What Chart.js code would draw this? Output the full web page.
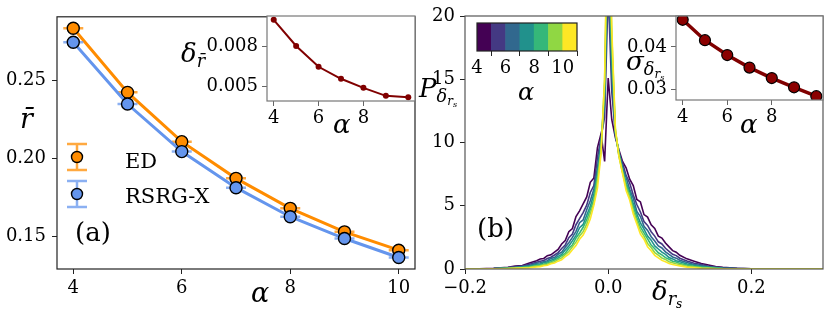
<!DOCTYPE html>
<html>
<head>
<meta charset="utf-8">
<script src="https://cdn.jsdelivr.net/npm/chart.js@4.4.0/dist/chart.umd.min.js"></script>
<style>
  body { margin: 0; background: #fff; }
  #wrap { position: relative; width: 830px; height: 317px; overflow: hidden; font-family: "DejaVu Serif", serif; }
  canvas { position: absolute; left: 0; top: 0; }
  .lbl { position: absolute; line-height: 1; white-space: nowrap; color: #000; }
  .m { font-style: italic; }
  sub { font-size: 68%; vertical-align: -0.28em; line-height: 0; }
</style>
</head>
<body>
<div id="wrap">
  <canvas id="cA" width="830" height="317"></canvas>
  <canvas id="cAin" width="830" height="317"></canvas>
  <canvas id="cB" width="830" height="317"></canvas>
  <canvas id="cBin" width="830" height="317"></canvas>
  <canvas id="cBar" width="830" height="317"></canvas>

  <div class="lbl m" style="font-size:27px; left:20px; top:105px;">r&#772;</div>
  <div class="lbl m" style="font-size:27px; left:251px; top:279px;">&alpha;</div>
  <div class="lbl m" style="font-size:26px; left:181px; top:40px;">&delta;<sub>r&#772;</sub></div>
  <div class="lbl m" style="font-size:26px; left:333px; top:111px;">&alpha;</div>
  <div class="lbl" style="font-size:26px; left:75px; top:219px;">(a)</div>
  <div class="lbl" style="font-size:21px; left:125px; top:151px;">ED</div>
  <div class="lbl" style="font-size:21px; left:125px; top:186px;">RSRG-X</div>

  <div class="lbl m" style="font-size:26px; left:419px; top:75px;">P<sub>&delta;<sub>r<sub>s</sub></sub></sub></div>
  <div class="lbl m" style="font-size:26px; left:652px; top:278px;">&delta;<sub>r<sub>s</sub></sub></div>
  <div class="lbl" style="font-size:26px; left:477px; top:215px;">(b)</div>
  <div class="lbl m" style="font-size:26px; left:626px; top:48px;">&sigma;<sub>&delta;<sub>r<sub>s</sub></sub></sub></div>
  <div class="lbl m" style="font-size:26px; left:740px; top:111px;">&alpha;</div>
  <div class="lbl m" style="font-size:24px; left:518px; top:80px;">&alpha;</div>
</div>

<script>
// ===============================
// DATA
// ===============================
const alphas = [4, 5, 6, 7, 8, 9, 10];

// panel (a): mean gap ratio
const rMeanED   = [0.2837, 0.2425, 0.2108, 0.1872, 0.1679, 0.1528, 0.1410];
const rMeanRSRG = [0.2747, 0.2350, 0.2044, 0.1812, 0.1625, 0.1485, 0.1363];

// inset (a): deviation of r
const deltaRMean = [0.01004, 0.00805, 0.00647, 0.00556, 0.00487, 0.00426, 0.00416];

// inset (b): width of the distributions
const sigmaDelta = [0.04632, 0.04155, 0.03808, 0.03515, 0.03270, 0.03054, 0.02846];

// panel (b): histograms P(delta_rs), one per alpha
const deltaGrid = [-0.2, -0.18, -0.16, -0.14, -0.13, -0.12, -0.11, -0.1,
  -0.095, -0.09, -0.085, -0.08, -0.075, -0.07, -0.065, -0.06, -0.055, -0.05,
  -0.045, -0.04, -0.035, -0.03, -0.025, -0.02, -0.015, -0.01, -0.005,
  0,
  0.005, 0.01, 0.015, 0.02, 0.025, 0.03, 0.035, 0.04, 0.045, 0.05,
  0.055, 0.06, 0.065, 0.07, 0.075, 0.08, 0.085, 0.09, 0.095, 0.1,
  0.11, 0.12, 0.13, 0.14, 0.15, 0.16, 0.18, 0.2, 0.25, 0.3];

const pA4 = [0, 0.02, 0.06, 0.14, 0.24, 0.28, 0.47, 0.66,
  0.79, 0.83, 1.05, 1.12, 1.34, 1.55, 1.98, 2.25, 2.95, 3.2, 4.15, 4.6, 5.15, 5.7, 6.85, 7.2, 9.6, 10.7, 8.5,
  15.1,
  11.8, 10.4, 9.4, 8.5, 8.0, 7.1, 6.6, 5.5, 5.3, 4.3, 4.1, 3.5, 3.2, 2.6, 2.45, 2.05, 1.75, 1.45, 1.33, 1.08,
  0.8, 0.62, 0.43, 0.31, 0.19, 0.13, 0.05, 0.02, 0, 0];
const pA5 = [0, 0.01, 0.04, 0.11, 0.18, 0.23, 0.37, 0.53,
  0.62, 0.67, 0.83, 0.93, 1.11, 1.3, 1.62, 1.9, 2.48, 2.77, 3.5, 3.98, 4.45, 5.05, 6.05, 6.6, 8.8, 10.4, 12.0,
  22,
  14.0, 10.7, 9.1, 8.4, 7.4, 6.8, 5.85, 5.1, 4.5, 3.75, 3.45, 2.95, 2.6, 2.15, 1.98, 1.64, 1.4, 1.16, 1.06, 0.85,
  0.63, 0.46, 0.35, 0.22, 0.16, 0.09, 0.04, 0.01, 0, 0];
const pA6 = [0, 0.01, 0.03, 0.09, 0.13, 0.2, 0.28, 0.46,
  0.49, 0.58, 0.66, 0.84, 0.9, 1.17, 1.33, 1.72, 2.08, 2.5, 2.98, 3.66, 3.88, 4.68, 5.4, 6.3, 8.0, 10.1, 13.0,
  25,
  15.5, 10.6, 9.3, 8.0, 7.25, 6.3, 5.6, 4.55, 4.15, 3.38, 3.05, 2.55, 2.22, 1.82, 1.66, 1.36, 1.15, 0.95, 0.86, 0.7,
  0.51, 0.36, 0.28, 0.17, 0.12, 0.07, 0.03, 0.01, 0, 0];
const pA7 = [0, 0.01, 0.02, 0.08, 0.11, 0.17, 0.22, 0.37,
  0.4, 0.5, 0.56, 0.7, 0.79, 1.0, 1.16, 1.5, 1.82, 2.22, 2.66, 3.27, 3.52, 4.25, 4.95, 5.95, 7.5, 9.8, 14.0,
  27,
  16.5, 10.9, 9.0, 7.95, 6.8, 6.15, 5.15, 4.35, 3.65, 3.15, 2.6, 2.28, 1.82, 1.58, 1.33, 1.16, 0.9, 0.8, 0.66, 0.58,
  0.39, 0.3, 0.2, 0.15, 0.09, 0.05, 0.02, 0, 0, 0];
const pA8 = [0, 0.005, 0.02, 0.06, 0.09, 0.12, 0.19, 0.27,
  0.34, 0.38, 0.48, 0.57, 0.7, 0.85, 1.05, 1.24, 1.64, 1.9, 2.45, 2.85, 3.3, 3.9, 4.7, 5.5, 7.3, 9.5, 14.0,
  29,
  17.5, 10.8, 9.15, 7.7, 6.75, 5.75, 4.95, 4.05, 3.32, 2.85, 2.38, 1.9, 1.6, 1.28, 1.12, 0.9, 0.77, 0.62, 0.55, 0.44,
  0.32, 0.21, 0.16, 0.09, 0.07, 0.03, 0.01, 0, 0, 0];
const pA9 = [0, 0, 0.015, 0.04, 0.07, 0.1, 0.13, 0.23,
  0.26, 0.33, 0.37, 0.5, 0.58, 0.74, 0.88, 1.13, 1.38, 1.75, 2.12, 2.62, 2.95, 3.55, 4.38, 5.2, 7.0, 9.3, 15.0,
  30,
  18.5, 11.0, 8.9, 7.65, 6.45, 5.7, 4.6, 3.8, 3.05, 2.6, 2.02, 1.7, 1.3, 1.1, 0.87, 0.76, 0.58, 0.5, 0.41, 0.35,
  0.22, 0.17, 0.1, 0.07, 0.04, 0.02, 0.01, 0, 0, 0];
const pA10 = [0, 0, 0.01, 0.03, 0.05, 0.08, 0.1, 0.16,
  0.19, 0.26, 0.29, 0.42, 0.48, 0.62, 0.73, 0.97, 1.18, 1.52, 1.85, 2.35, 2.68, 3.25, 3.95, 5.05, 6.4, 9.1, 15.0,
  32,
  19.0, 11.1, 8.9, 7.55, 6.2, 5.45, 4.35, 3.55, 2.75, 2.35, 1.75, 1.45, 1.08, 0.88, 0.68, 0.57, 0.44, 0.36, 0.3, 0.25,
  0.15, 0.1, 0.06, 0.04, 0.02, 0.01, 0, 0, 0, 0];
const histograms = [pA4, pA5, pA6, pA7, pA8, pA9, pA10];

// tick labels
const ticksAx = [4, 6, 8, 10];
const ticksAy = [0.15, 0.20, 0.25];
const ticksAinX = [4, 6, 8];
const ticksAinY = [0.005, 0.008];
const ticksBx = [-0.2, 0, 0.2];
const ticksBy = [0, 5, 10, 15, 20];
const ticksBinX = [4, 6, 8];
const ticksBinY = [0.03, 0.04];
const ticksBar = [4, 6, 8, 10];

// ===============================
// STYLE
// ===============================
const viridis = ["#440154", "#443983", "#31688e", "#21918c", "#35b779", "#90d743", "#fde725"];
const tickFont = { family: "'DejaVu Serif', serif", size: 18 };

Chart.defaults.animation = false;
Chart.defaults.responsive = false;
Chart.defaults.plugins.legend.display = false;
Chart.defaults.plugins.tooltip.enabled = false;

const framePlugin = {
  id: "frame",
  beforeDraw(chart, args, opts) {
    if (!opts.fill) return;
    const a = chart.chartArea;
    chart.ctx.save();
    chart.ctx.fillStyle = opts.fill;
    chart.ctx.fillRect(a.left, a.top, a.right - a.left, a.bottom - a.top);
    chart.ctx.restore();
  },
  afterDraw(chart, args, opts) {
    const a = chart.chartArea;
    const ctx = chart.ctx;
    ctx.save();
    ctx.strokeStyle = opts.color || "#222";
    ctx.lineWidth = 1.2;
    ctx.strokeRect(a.left, a.top, a.right - a.left, a.bottom - a.top);
    ctx.restore();
  }
};

function axis(min, max, tickVals, fmt, size, pad, tickColor) {
  return {
    type: "linear",
    min: min,
    max: max,
    afterBuildTicks: s => { s.ticks = tickVals.map(v => ({ value: v })); },
    afterFit: s => { if (s.isHorizontal()) s.height = size; else s.width = size; },
    grid: { drawOnChartArea: false, drawTicks: true, tickLength: 5, tickColor: tickColor || "#222", tickWidth: 1 },
    border: { display: false },
    ticks: { font: tickFont, color: "#000", padding: pad, maxRotation: 0, autoSkip: false, callback: fmt }
  };
}

function pts(xs, ys) {
  return xs.map((x, i) => ({ x: x, y: ys[i] }));
}

// ===============================
// PANEL (a)
// ===============================
const legendPlugin = {
  id: "errLegend",
  afterDraw(chart) {
    const ctx = chart.ctx;
    const items = [
      { y: 157, color: "#ff8c00", cap: "rgba(255,140,0,0.75)" },
      { y: 194, color: "#6495ed", cap: "rgba(100,149,237,0.75)" }
    ];
    const x = 77;
    ctx.save();
    items.forEach(it => {
      ctx.strokeStyle = it.cap;
      ctx.lineWidth = 2.5;
      ctx.beginPath();
      ctx.moveTo(x, it.y - 13); ctx.lineTo(x, it.y + 13);
      ctx.moveTo(x - 10, it.y - 13); ctx.lineTo(x + 10, it.y - 13);
      ctx.moveTo(x - 10, it.y + 13); ctx.lineTo(x + 10, it.y + 13);
      ctx.stroke();
      ctx.beginPath();
      ctx.arc(x, it.y, 5.5, 0, Math.PI * 2);
      ctx.fillStyle = it.color;
      ctx.fill();
      ctx.strokeStyle = "#000";
      ctx.lineWidth = 1.4;
      ctx.stroke();
    });
    ctx.restore();
  }
};

new Chart(document.getElementById("cA"), {
  type: "line",
  data: {
    datasets: [
      { data: pts(alphas, rMeanRSRG), borderColor: "#6495ed", borderWidth: 3, pointRadius: 6,
        pointBackgroundColor: "#6495ed", pointBorderColor: "#000", pointBorderWidth: 1.4, order: 0 },
      { data: pts(alphas, rMeanRSRG), showLine: false, pointStyle: "line", pointRadius: 10,
        pointBorderColor: "rgba(100,149,237,0.75)", pointBorderWidth: 2.5, order: 1 },
      { data: pts(alphas, rMeanED), borderColor: "#ff8c00", borderWidth: 3, pointRadius: 6,
        pointBackgroundColor: "#ff8c00", pointBorderColor: "#000", pointBorderWidth: 1.4, order: 2 },
      { data: pts(alphas, rMeanED), showLine: false, pointStyle: "line", pointRadius: 10,
        pointBorderColor: "rgba(255,140,0,0.75)", pointBorderWidth: 2.5, order: 3 }
    ]
  },
  options: {
    layout: { padding: { left: 0, right: 415, top: 16, bottom: 0 } },
    scales: {
      x: axis(3.7, 10.3, ticksAx, v => String(v), 48, 4),
      y: axis(0.1289, 0.2911, ticksAy, v => v.toFixed(2), 57, 6)
    },
    plugins: { frame: { color: "#222" } }
  },
  plugins: [framePlugin, legendPlugin]
});

new Chart(document.getElementById("cAin"), {
  type: "line",
  data: {
    datasets: [
      { data: pts(alphas, deltaRMean), borderColor: "#800000", borderWidth: 2, pointRadius: 3,
        pointBackgroundColor: "#800000", pointBorderColor: "#800000", pointBorderWidth: 0 }
    ]
  },
  options: {
    layout: { padding: { left: 0, right: 415, top: 16, bottom: 176 } },
    scales: {
      x: axis(3.7, 10.3, ticksAinX, v => String(v), 40, 2, "#666"),
      y: axis(0.00387, 0.01033, ticksAinY, v => v.toFixed(3), 267, 4, "#666")
    },
    plugins: { frame: { color: "#777", fill: "#fff" } }
  },
  plugins: [framePlugin]
});

// ===============================
// PANEL (b)
// ===============================
new Chart(document.getElementById("cB"), {
  type: "line",
  data: {
    datasets: histograms.map((h, i) => ({
      data: pts(deltaGrid, h),
      borderColor: viridis[i],
      borderWidth: 1.6,
      pointRadius: 0,
      tension: 0,
      order: 10 - alphas[i]
    }))
  },
  options: {
    layout: { padding: { left: 0, right: 7, top: 16, bottom: 0 } },
    scales: {
      x: axis(-0.2, 0.3, ticksBx, v => (v < 0 ? "\u2212" : "") + Math.abs(v).toFixed(1), 48, 4),
      y: axis(0, 20, ticksBy, v => String(v), 465, 5)
    },
    plugins: { frame: { color: "#555" } }
  },
  plugins: [framePlugin]
});

new Chart(document.getElementById("cBin"), {
  type: "line",
  data: {
    datasets: [
      { data: pts(alphas, sigmaDelta), borderColor: "#800000", borderWidth: 3.5, pointRadius: 5.5,
        pointBackgroundColor: "#8b0000", pointBorderColor: "#000", pointBorderWidth: 1.2 }
    ]
  },
  options: {
    layout: { padding: { left: 0, right: 7, top: 16, bottom: 177 } },
    scales: {
      x: axis(3.7, 10.3, ticksBinX, v => String(v), 40, 2, "#666"),
      y: axis(0.02757, 0.04721, ticksBinY, v => v.toFixed(2), 676, 4, "#666")
    },
    plugins: { frame: { color: "#777", fill: "#fff" } }
  },
  plugins: [framePlugin]
});

// colorbar
new Chart(document.getElementById("cBar"), {
  type: "bar",
  data: {
    datasets: [{
      data: alphas.map(a => ({ x: a + 0.5, y: 1 })),
      backgroundColor: viridis,
      borderWidth: 0,
      barPercentage: 1,
      categoryPercentage: 1
    }]
  },
  options: {
    layout: { padding: { left: 477, right: 253, top: 23, bottom: 226 } },
    scales: {
      x: Object.assign(axis(4, 11, ticksBar, v => String(v), 40, 2), { offset: false }),
      y: { display: false, min: 0, max: 1 }
    },
    plugins: { frame: { color: "#222" } }
  },
  plugins: [framePlugin]
});
</script>
</body>
</html>
